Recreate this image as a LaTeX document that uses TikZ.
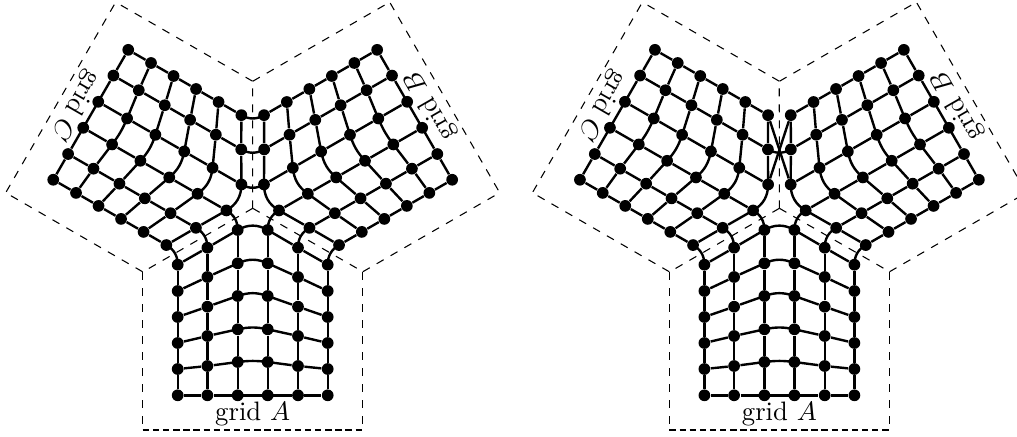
\documentclass[tikz,border=0pt]{standalone}
\usepackage{tikz}
\tikzset{
  gridpt/.style={circle, fill=black, inner sep=0pt, minimum size=4.4pt},
  gridedge/.style={line width=0.9pt},
  blockline/.style={dashed, line width=0.4pt},
  farline/.style={blockline, dash phase=4.9pt},
  bottomline/.style={line width=0.5pt, dash pattern=on 2.4pt off 1.4pt},
  blocklabel/.style={inner sep=0pt},
}
% one block of the Y: prefix, angle, letter, style of far side
\newcommand{\gridblock}[4]{%
  \begin{scope}[rotate=#2]
    \coordinate (#1-c) at (0,0);
    \coordinate (#1-tl) at (-110,63.7);
    \coordinate (#1-tr) at (110,63.7);
    \coordinate (#1-bl) at (-110,221.7);
    \coordinate (#1-br) at (110,221.7);
    \foreach \row/\ya/\yb/\yc in {1/56.4/39.4/21.7, 2/82.7/68.7/55, 3/108.7/98.4/87.7, 4/134.7/127.7/121, 5/160.7/157.7/153.7, 6/187/187/187}{
      \node[gridpt] (#1-1-\row) at (-75,\ya) {};
      \node[gridpt] (#1-2-\row) at (-45.3,\yb) {};
      \node[gridpt] (#1-3-\row) at (-15,\yc) {};
      \node[gridpt] (#1-4-\row) at (15,\yc) {};
      \node[gridpt] (#1-5-\row) at (45.3,\yb) {};
      \node[gridpt] (#1-6-\row) at (75,\ya) {};
    }
    \foreach \col in {1,...,6}
      \foreach \row [count=\next from 2] in {1,...,5}
        \draw[gridedge] (#1-\col-\row) -- (#1-\col-\next);
    \foreach \row/\bow in {1/30, 2/24, 3/19, 4/12, 5/7, 6/0}
      \draw[gridedge] (#1-1-\row) -- (#1-2-\row) -- (#1-3-\row.center) to[bend left=\bow] (#1-4-\row.center) -- (#1-5-\row) -- (#1-6-\row);
    \node[blocklabel, rotate=#2] (#1-name) at (0,205.5) {grid $#3$};
    \draw[blockline] (#1-c) -- (#1-tl);
    \draw[blockline] (#1-tl) -- (#1-bl);
    \draw[#4] (#1-bl) -- (#1-br);
    \draw[blockline] (#1-tr) -- (#1-br);
  \end{scope}
}
% strip between two blocks
\newcommand{\gridjoin}[2]{%
  \foreach \i/\j in {1/6, 2/5, 3/4}
    \draw[gridedge] (#1-\i-1.center) to[bend right=30] (#2-\j-1.center);
}
\begin{document}
\begin{tikzpicture}[x=0.375pt, y=-0.375pt]
\clip (0,0) rectangle (1017,436);

% first mesh
\begin{scope}[shift={(252.7,208.3)}]
  \gridblock{LA}{0}{A}{bottomline}
  \gridblock{LB}{120}{B}{farline}
  \gridblock{LC}{-120}{C}{farline}
  \gridjoin{LA}{LC}
  \gridjoin{LB}{LA}
  \gridjoin{LC}{LB}
\end{scope}

% second mesh, strip C-B twisted
\begin{scope}[shift={(779.4,208.3)}]
  \gridblock{RA}{0}{A}{bottomline}
  \gridblock{RB}{120}{B}{farline}
  \gridblock{RC}{-120}{C}{farline}
  \gridjoin{RA}{RC}
  \gridjoin{RB}{RA}
  \draw[gridedge] (RC-1-1) -- (RB-4-1);
  \draw[gridedge] (RC-2-1.center) to[bend right=30] (RB-5-1.center);
  \draw[gridedge] (RC-3-1) -- (RB-6-1);
\end{scope}
\end{tikzpicture}
\end{document}
